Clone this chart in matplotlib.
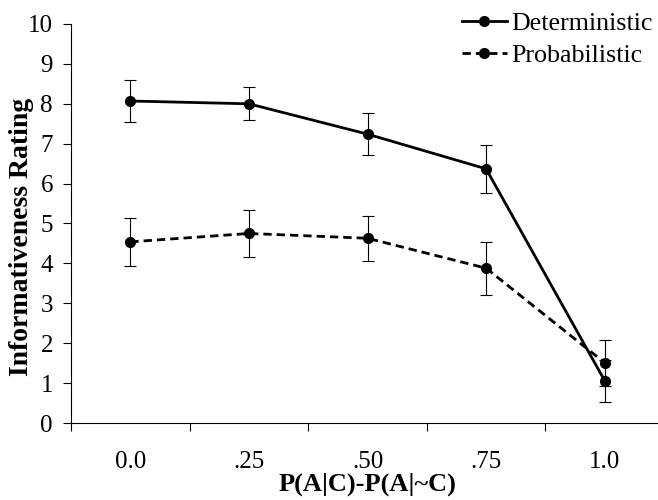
import numpy as np
import matplotlib
matplotlib.use('Agg')
import matplotlib.pyplot as plt

x_labels = ['0.0', '.25', '.50', '.75', '1.0']
det_mean = [8.07, 8.00, 7.24, 6.37, 1.06]
det_err = [0.53, 0.41, 0.52, 0.60, 0.53]
prob_mean = [4.54, 4.75, 4.63, 3.88, 1.51]
prob_err = [0.60, 0.60, 0.56, 0.66, 0.58]

plt.rcParams['font.family'] = 'Liberation Serif'

fig = plt.figure(figsize=(6.58, 5.0), dpi=100)
ax = fig.add_axes([71 / 658, 77 / 500, 593 / 658, 399 / 500])

xs = np.arange(len(x_labels))
det = ax.errorbar(xs, det_mean, yerr=det_err, color='black', lw=2.0, marker='o', ms=7,
                  ecolor='black', elinewidth=0.8, capsize=4.5, capthick=0.8)
prob = ax.errorbar(xs, prob_mean, yerr=prob_err, color='black', lw=2.0, ls=(0, (3.0, 1.8)), marker='o', ms=7,
                   ecolor='black', elinewidth=0.8, capsize=4.5, capthick=0.8)

ax.set_xlim(-0.5, 4.5)
ax.set_ylim(0, 10)
ax.set_yticks(range(0, 11))
ax.set_xticks(np.arange(-0.5, 5.0, 1.0))
ax.set_xticklabels([])
ax.set_xticks(xs, minor=True)
ax.set_xticklabels(x_labels, minor=True)

for side in ['top', 'right']:
    ax.spines[side].set_visible(False)
for side in ['left', 'bottom']:
    ax.spines[side].set_linewidth(0.8)

ax.tick_params(axis='y', which='major', direction='out', length=6, width=0.8, labelsize=18, pad=7)
ax.tick_params(axis='x', which='major', direction='out', length=6, width=0.8)
ax.tick_params(axis='x', which='minor', length=0, labelsize=18, pad=20)

ax.set_ylabel('Informativeness Rating', fontsize=20, fontweight='bold', va='center')
ax.yaxis.set_label_coords(-0.084, 0.466)
ax.set_xlabel('P(A|C)-P(A|~C)', fontsize=19, fontweight='bold', labelpad=0)

fig.legend([det[0], prob[0]], ['Deterministic', 'Probabilistic'], loc='upper right',
           bbox_to_anchor=(1.009, 1.0), frameon=False, fontsize=18.7, handlelength=1.75,
           handletextpad=0.15, labelspacing=0.35, borderaxespad=0.05)

fig.savefig('out.png', dpi=100)
